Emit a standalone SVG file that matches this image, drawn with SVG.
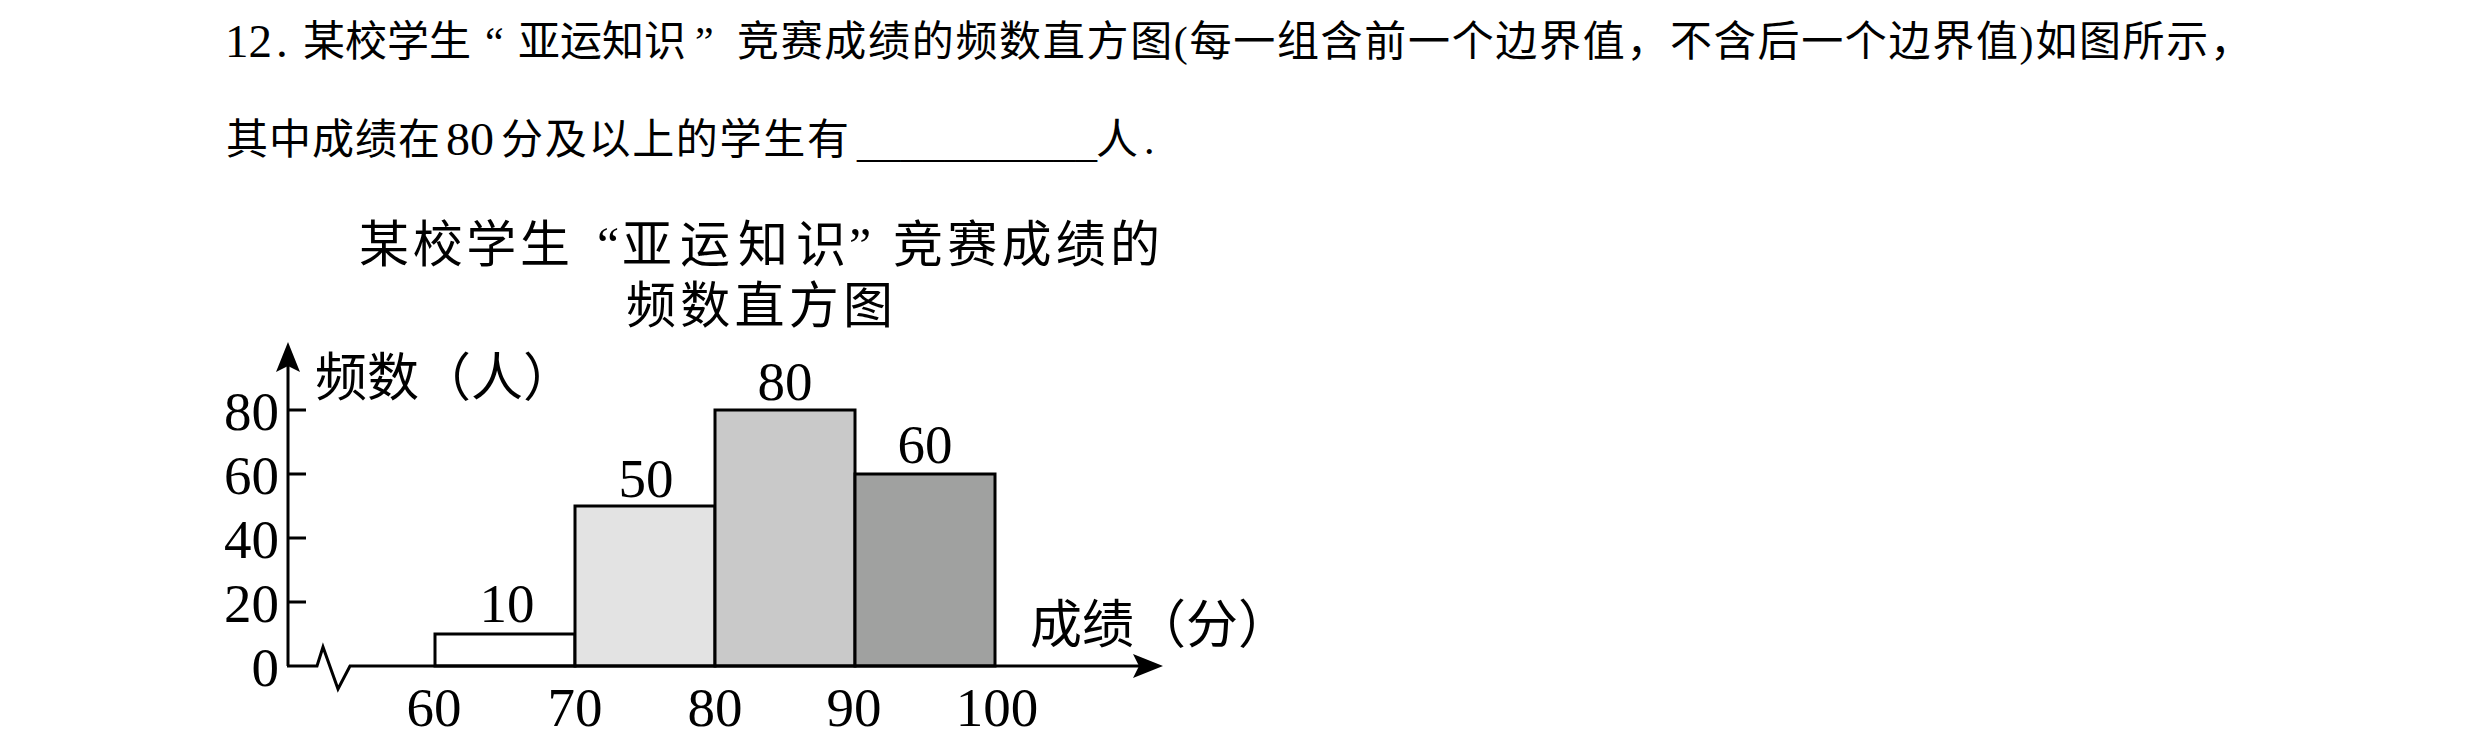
<svg xmlns="http://www.w3.org/2000/svg" width="2480" height="747" viewBox="0 0 2480 747">
<style>
text{font-family:"Liberation Serif","Noto Sans CJK SC",serif;fill:#000}
.q{font-size:42px}
.d{font-size:47px}
.t{font-size:50px}
.lab{font-size:52px}
.num{font-size:55px}
.mid{text-anchor:middle}
.end{text-anchor:end}
.bar{stroke:#000;stroke-width:3}
.ax{stroke:#000;stroke-width:3;fill:none}
</style>
<defs>
<marker id="arr" viewBox="0 0 30 24" markerWidth="30" markerHeight="24" refX="17" refY="12" orient="auto" markerUnits="userSpaceOnUse">
<path d="M0,0 L30,12 L0,24 L6,12 Z" fill="#000"/>
</marker>
</defs>
<rect width="2480" height="747" fill="#fff"/>
<g id="question">
<text class="d" y="57"><tspan x="225">12</tspan><tspan x="276">.</tspan></text>
<text class="q" y="56"><tspan x="303">某校学生</tspan><tspan x="485">“</tspan><tspan x="518">亚运知识</tspan><tspan x="695">”</tspan></text>
<text class="q" x="737" y="56" textLength="1515" lengthAdjust="spacing">竞赛成绩的频数直方图(每一组含前一个边界值，不含后一个边界值)如图所示，</text>
<text class="q" x="226" y="154" textLength="214" lengthAdjust="spacing">其中成绩在</text>
<text class="d" x="446" y="155" textLength="48" lengthAdjust="spacingAndGlyphs">80</text>
<text class="q" x="501" y="154" textLength="348" lengthAdjust="spacing">分及以上的学生有</text>
<text class="q" x="857" y="157" textLength="240" lengthAdjust="spacingAndGlyphs">___________</text>
<text class="q" x="1096" y="154">人</text>
<text class="q" x="1144" y="154">.</text>
</g>
<g id="chart-title">
<text class="t" x="359" y="262" textLength="211" lengthAdjust="spacing">某校学生</text>
<text class="t" x="597" y="262">“</text>
<text class="t" x="622" y="262" textLength="224" lengthAdjust="spacing">亚运知识</text>
<text class="t" x="849" y="262">”</text>
<text class="t" x="893" y="262" textLength="267" lengthAdjust="spacing">竞赛成绩的</text>
<text class="t" x="626" y="323" textLength="267" lengthAdjust="spacing">频数直方图</text>
</g>
<g id="bars">
<g id="bar-60-70"><rect class="bar" x="435" y="634" width="140" height="32" fill="#fff"/><text class="num mid" x="507" y="622">10</text></g>
<g id="bar-70-80"><rect class="bar" x="575" y="506" width="140" height="160" fill="#e3e3e3"/><text class="num mid" x="646" y="497">50</text></g>
<g id="bar-80-90"><rect class="bar" x="715" y="410" width="140" height="256" fill="#c9c9c9"/><text class="num mid" x="785" y="400">80</text></g>
<g id="bar-90-100"><rect class="bar" x="855" y="474" width="140" height="192" fill="#a0a1a0"/><text class="num mid" x="925" y="463">60</text></g>
</g>
<g id="connectors">
<path class="ax" d="M288,666 L288,355" marker-end="url(#arr)"/>
<path class="ax" d="M287,666 L317,666 L323,647 L338,689 L350,666 L1150,666" marker-end="url(#arr)"/>
<path class="ax" d="M288,410 H306 M288,474 H306 M288,538 H306 M288,602 H306"/>
</g>
<g id="y-axis-labels">
<text class="lab" x="315" y="396">频数（人）</text>
<text class="num end" x="279" y="430">80</text>
<text class="num end" x="279" y="494">60</text>
<text class="num end" x="279" y="558">40</text>
<text class="num end" x="279" y="622">20</text>
<text class="num end" x="279" y="686">0</text>
</g>
<g id="x-axis-labels">
<text class="lab" x="1030" y="643">成绩（分）</text>
<text class="num mid" x="434" y="726">60</text>
<text class="num mid" x="575" y="726">70</text>
<text class="num mid" x="715" y="726">80</text>
<text class="num mid" x="854" y="726">90</text>
<text class="num mid" x="997" y="726">100</text>
</g>
</svg>
